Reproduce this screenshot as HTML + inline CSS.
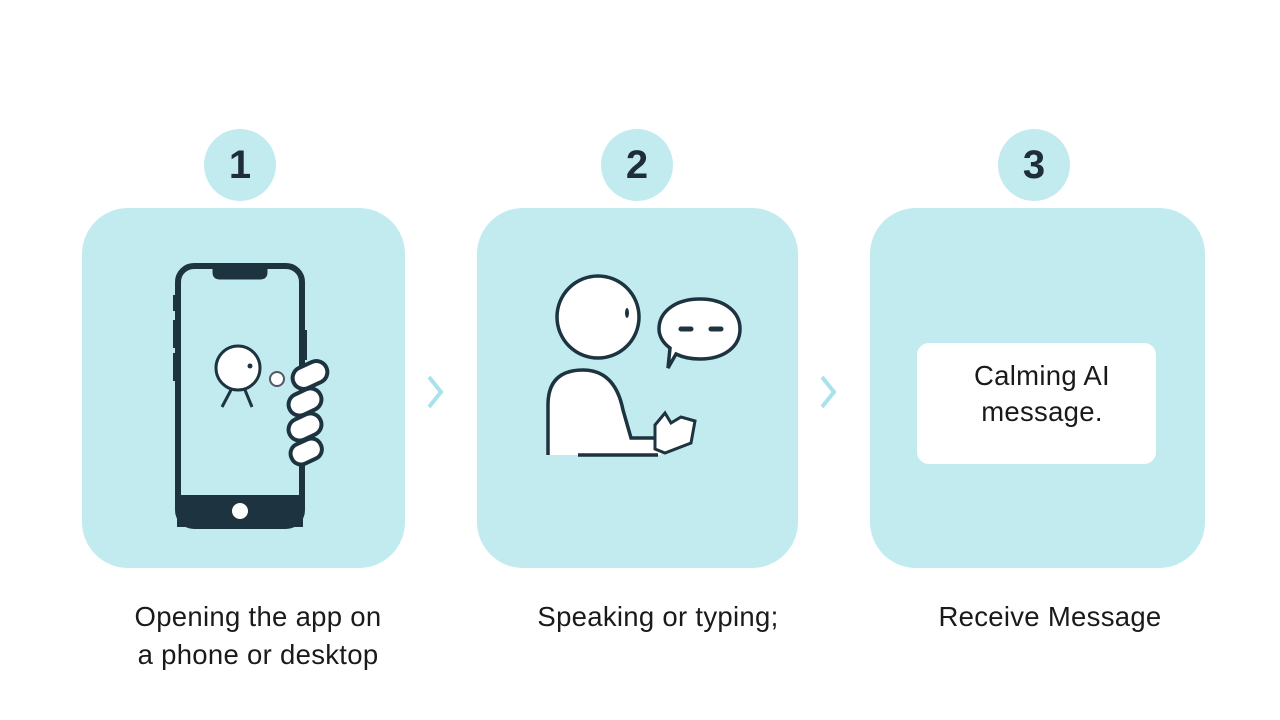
<!DOCTYPE html>
<html><head><style>
body{margin:0;width:1280px;height:720px;background:#fff;overflow:hidden;position:relative;font-family:"Liberation Sans",sans-serif}
.p{position:absolute;background:#c1ebef;border-radius:46px}
.c{position:absolute;width:72px;height:72px;border-radius:50%;background:#c1ebef;color:#1f2d3a;font-weight:bold;font-size:40px;text-align:center;line-height:72px}
.t{position:absolute;font-size:27.5px;color:#1a1a1a;text-align:center;line-height:38px;letter-spacing:0.3px}
</style></head><body>
<div class="c" style="left:204px;top:129px">1</div>
<div class="c" style="left:601px;top:129px">2</div>
<div class="c" style="left:998px;top:129px">3</div>
<div class="p" style="left:82px;top:208px;width:323px;height:360px"></div>
<div class="p" style="left:477px;top:208px;width:321px;height:360px"></div>
<div class="p" style="left:870px;top:208px;width:335px;height:360px"></div>
<svg width="1280" height="720" style="position:absolute;left:0;top:0">
<g fill="none" stroke="#a8e2ea" stroke-width="4"><path d="M429 377 L441 392 L429 407"/><path d="M822 377 L834 392 L822 407"/></g>
<g stroke="#1d3340" fill="none">
<rect x="178" y="266" width="124" height="260" rx="16" stroke-width="6"/>
<path d="M214 266 v6 q0 6 6 6 h40 q6 0 6 -6 v-6" fill="#1d3340" stroke-width="3"/>
<rect x="178" y="496" width="124" height="30" fill="#1d3340" stroke-width="2"/>
<path d="M175 295 v16 M175 320 v28 M175 353 v28 M305 330 v30" stroke-width="4"/>
</g>
<circle cx="240" cy="511" r="8" fill="#fff"/>
<circle cx="238" cy="368" r="22" fill="#fff" stroke="#1d3340" stroke-width="3"/>
<circle cx="250" cy="366" r="2.5" fill="#1d3340"/>
<path d="M231 390 L222 407 M245 390 L252 407" stroke="#1d3340" stroke-width="3"/>
<circle cx="277" cy="379" r="7" fill="#fff" stroke="#556" stroke-width="2"/>
<g fill="#fff" stroke="#1d3340" stroke-width="4">
<rect x="292" y="364" width="36" height="22" rx="11" transform="rotate(-25 310 375)"/>
<rect x="288" y="391" width="34" height="22" rx="11" transform="rotate(-25 305 402)"/>
<rect x="288" y="416" width="34" height="22" rx="11" transform="rotate(-25 305 427)"/>
<rect x="290" y="441" width="32" height="21" rx="10" transform="rotate(-25 306 451)"/>
</g>
<path d="M548 455 V405 q0 -35 35 -35 q32 0 40 40 l8 28 h30 l0 17 Z" fill="#fff"/>
<path d="M548 455 V405 q0 -35 35 -35 q32 0 40 40 l8 28 h28 M578 455 h80" fill="none" stroke="#1d3340" stroke-width="3.5"/>
<path d="M655 425 l10 -12 l6 10 l10 -6 l14 4 l-4 22 l-26 10 l-10 -4 z" fill="#fff" stroke="#1d3340" stroke-width="3"/>
<circle cx="598" cy="317" r="41" fill="#fff" stroke="#1d3340" stroke-width="3.5"/>
<ellipse cx="627" cy="313" rx="2" ry="5" fill="#1d3340"/>
<path d="M700 299 c25 0 40 13 40 30 c0 17 -15 30 -40 30 c-10 0 -18 -2 -24 -5 l-8 14 l2 -20 c-7 -5 -11 -12 -11 -19 c0 -17 16 -30 41 -30z" fill="#fff" stroke="#1d3340" stroke-width="3.5"/>
<path d="M681 329 h10 M711 329 h10" stroke="#1d3340" stroke-width="5" stroke-linecap="round"/>
</svg>
<div style="position:absolute;left:917px;top:343px;width:239px;height:121px;background:#fff;border-radius:12px"></div>
<div class="t" style="left:942px;top:358px;width:200px;line-height:36px">Calming AI<br>message.</div>
<div class="t" style="left:98px;top:598px;width:320px">Opening the app on<br>a phone or desktop</div>
<div class="t" style="left:498px;top:598px;width:320px">Speaking or typing;</div>
<div class="t" style="left:890px;top:598px;width:320px">Receive Message</div>
</body></html>
